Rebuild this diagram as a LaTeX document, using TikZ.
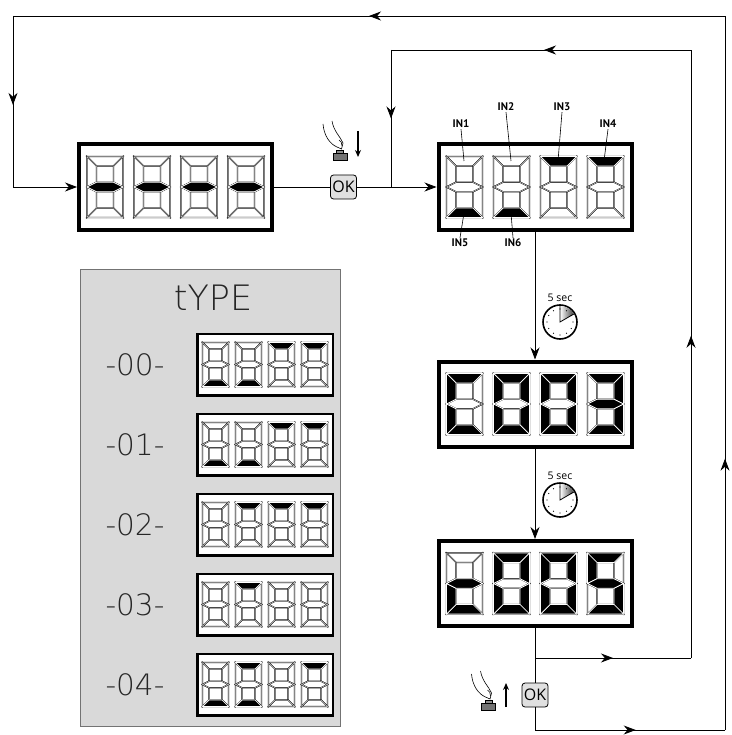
\documentclass[tikz,border=0pt]{standalone}
\usepackage{fontspec}
\setmainfont{Open Sans}
\newfontfamily\labfont{PT Sans}
\newfontfamily\segfont{DejaVu Sans ExtraLight}
\usetikzlibrary{arrows.meta,calc,positioning,decorations.markings}

% segments of one digit, top left corner at (0,0), y downwards
\def\sega{(0,0) -- (\sW,0) -- (\sW-\sT,\sT) -- (\sT,\sT) -- cycle}
\def\segb{(\sW,0) -- (\sW,\sH/2) -- (\sW-\sT,\sH/2-\sT/2) -- (\sW-\sT,\sT) -- cycle}
\def\segc{(\sW,\sH/2) -- (\sW,\sH) -- (\sW-\sT,\sH-\sT) -- (\sW-\sT,\sH/2+\sT/2) -- cycle}
\def\segd{(0,\sH) -- (\sT,\sH-\sT) -- (\sW-\sT,\sH-\sT) -- (\sW,\sH) -- cycle}
\def\sege{(0,\sH/2) -- (\sT,\sH/2+\sT/2) -- (\sT,\sH-\sT) -- (0,\sH) -- cycle}
\def\segf{(0,0) -- (\sT,\sT) -- (\sT,\sH/2-\sT/2) -- (0,\sH/2) -- cycle}
\def\segg{(0,\sH/2) -- (\sT,\sH/2-\sT/2) -- (\sW-\sT,\sH/2-\sT/2) -- (\sW,\sH/2) -- (\sW-\sT,\sH/2+\sT/2) -- (\sT,\sH/2+\sT/2) -- cycle}
\def\segnone{}

\newcommand{\segdigit}[5]{%
  \begin{scope}[shift={#1}]
    \def\sW{#2}\def\sH{#3}\def\sT{#4}
    \foreach \s in {a,b,c,d,e,f,g}
      \filldraw[segoff] \csname seg\s\endcsname;
    \foreach \s in #5
      \filldraw[segon] \csname seg\s\endcsname;
  \end{scope}}

% #1 display node, #2 width, #3 height, #4 thickness, #5 pitch, #6 lit segments
\newcommand{\segdisplay}[6]{%
  \foreach \segs [count=\i] in {#6}{%
    \segdigit{($(#1)+({(\i-1)*#5-(3*#5+#2)/2},{-#3/2})$)}{#2}{#3}{#4}{\segs}}}

\newcommand{\pushhand}[1]{%
  \begin{scope}[shift={#1},line width=0.6pt]
    \draw (-17,-26) .. controls (-16,-14) and (-10,-6) .. (-3,-3);
    \draw (-8,-29) .. controls (-6,-18) and (0,-14) .. (3,-7) -- (1.5,-1) -- (-3,-3);
    \draw (-1,-10) .. controls (1,-9) and (2,-7) .. (2,-4);
    \filldraw[fill=black!45] (-3.5,0) rectangle (3.5,3);
    \filldraw[fill=black!55] (-7,3) rectangle (7,10);
  \end{scope}}

\begin{document}
\begin{tikzpicture}[x=1pt,y=-1pt,
    flow/.style={line width=0.8pt},
    arrowto/.style={-{Stealth[length=12pt,width=9pt]}},
    midarrow/.style={postaction={decorate},decoration={markings,mark=at position #1 with {\arrow{Stealth[length=12pt,width=9pt]}}}},
    segoff/.style={fill=white,draw=black,line width=0.35pt,double=black!20,double distance=0.5pt},
    segon/.style={fill=black,draw=white,line width=0.7pt},
    bigdisp/.style={rectangle,draw,fill=white,line width=4pt,minimum width=193pt,minimum height=85pt,inner sep=0pt},
    smalldisp/.style={rectangle,draw,fill=white,line width=2.5pt,minimum width=135.5pt,minimum height=61.5pt,inner sep=0pt},
    okkey/.style={rectangle,rounded corners=3pt,draw,fill=black!12,line width=0.8pt,minimum width=26pt,minimum height=24pt,inner sep=0pt,font=\fontsize{16}{16}\selectfont},
    inlabel/.style={font=\labfont\bfseries\fontsize{11}{11}\selectfont,inner sep=1pt},
    seglabel/.style={font=\segfont\fontsize{29.5}{29.5}\selectfont,text=black!85},
    timer/.style={circle,draw,fill=white,line width=1.6pt,minimum size=34pt,inner sep=0pt},
    sectext/.style={font=\fontsize{10.5}{10.5}\selectfont,inner sep=1pt}]
  \useasboundingbox (0,0) rectangle (731,735);

  % type panel
  \node[rectangle,draw=black!55,fill=black!15,line width=0.8pt,minimum width=260pt,minimum height=457pt] (typepanel) at (210.5,497.5) {};
  \node[seglabel,font=\segfont\fontsize{35}{35}\selectfont] (typetitle) at (213,298) {tYPE};
  \foreach \k/\txt in {0/-00-,1/-01-,2/-02-,3/-03-,4/-04-}{
    \node[smalldisp] (type\k) at (265,364.5+80*\k) {};
    \node[seglabel,xshift=-61pt] (lab\k) at (type\k.west) {\txt};}
  \segdisplay{type0}{26}{44}{6.5}{33}{{d},{d},{a},{a}}
  \segdisplay{type1}{26}{44}{6.5}{33}{{d},{d},{a},{a}}
  \segdisplay{type2}{26}{44}{6.5}{33}{{none},{a},{a},{a}}
  \segdisplay{type3}{26}{44}{6.5}{33}{{none},{a},{none},{none}}
  \segdisplay{type4}{26}{44}{6.5}{33}{{d},{a,d},{none},{a}}

  % displays
  \node[bigdisp] (dash) at (175.5,187) {};
  \node[bigdisp] (inputs) at (535,187) {};
  \node[bigdisp] (code3) at (535,404) {};
  \node[bigdisp] (code5) at (535,583.5) {};
  \segdisplay{dash}{36}{61}{9.5}{47}{{g},{g},{g},{g}}
  \segdisplay{inputs}{36}{61}{9.5}{47}{{d},{d},{a},{a}}
  \segdisplay{code3}{36}{61}{9.5}{47}{{a,d,e,f},{a,b,c,d,e,f},{a,b,c,d,e,f},{a,b,c,d,g}}
  \segdisplay{code5}{36}{61}{9.5}{47}{{d,e,g},{a,b,c,d,e,f},{a,b,c,d,e,f},{a,c,d,f,g}}

  % input labels
  \node[inlabel] (in1) at (461,124) {IN1};
  \node[inlabel] (in2) at (506,107) {IN2};
  \node[inlabel] (in3) at (562,107) {IN3};
  \node[inlabel] (in4) at (608,124) {IN4};
  \node[inlabel] (in5) at (460,243) {IN5};
  \node[inlabel] (in6) at (513,243) {IN6};
  \path (464,161) coordinate (s1) (511,161) coordinate (s2) (558,161) coordinate (s3)
        (604,161) coordinate (s4) (464,213) coordinate (s5) (511,213) coordinate (s6);
  \foreach \i in {1,...,4} \draw[line width=0.6pt] (in\i.south) -- (s\i);
  \foreach \i in {5,6} \draw[line width=0.6pt] (in\i.north) -- (s\i);

  % keys and timers
  \node[okkey] (ok1) at (343.5,187) {OK};
  \node[okkey] (ok2) at (535,695) {OK};
  \pushhand{(340,150)}
  \pushhand{(488.5,700)}
  \path (358,131) coordinate (pressA) (358,157) coordinate (pressB)
        (506,707) coordinate (relA) (506,683) coordinate (relB);
  \draw[line width=1.5pt,-{Stealth[length=7pt,width=6pt]}] (pressA) -- (pressB);
  \draw[line width=1.5pt,-{Stealth[length=7pt,width=6pt]}] (relA) -- (relB);
  \node[timer] (clk1) at (560,322) {};
  \node[timer] (clk2) at (560,500) {};
  \node[sectext,above=1pt of clk1] (sec1) {5 sec};
  \node[sectext,above=1pt of clk2] (sec2) {5 sec};
  \foreach \c in {clk1,clk2}{
    \shade[left color=white,right color=black!75] (\c.center) -- ($(\c.center)+(0,-16)$) arc[start angle=90,end angle=30,radius=16pt] -- cycle;
    \foreach \a in {0,30,...,330} \fill ($(\c.center)+(\a:13)$) circle[radius=0.6pt];
    \draw[line width=0.8pt] ($(\c.center)+(0,-16)$) -- (\c.center) -- ($(\c.center)+(-30:16)$);}

  % loops
  \path (725,730) coordinate (outBR) (725,16) coordinate (outTR) (13,16) coordinate (outTL)
        (13,187) coordinate (outBL) (535,730) coordinate (outJ)
        (535,658) coordinate (inJ) (691,658) coordinate (inBR) (691,50) coordinate (inTR)
        (391,50) coordinate (inTL) (391,187) coordinate (inBL);
  \draw[flow] (dash.east) -- (ok1.west);
  \draw[flow,arrowto] (ok1.east) -- (inputs.west);
  \draw[flow,arrowto] (inputs.south) -- (code3.north);
  \draw[flow,arrowto] (code3.south) -- (code5.north);
  \draw[flow] (code5.south) -- (ok2.north);
  \draw[flow] (ok2.south) -- (outJ);
  \draw[flow,midarrow=0.53] (outJ) -- (outBR);
  \draw[flow,midarrow=0.38] (outBR) -- (outTR);
  \draw[flow,midarrow=0.5] (outTR) -- (outTL);
  \draw[flow,midarrow=0.52] (outTL) -- (outBL);
  \draw[flow,arrowto] (outBL) -- (dash.west);
  \draw[flow,midarrow=0.5] (inJ) -- (inBR);
  \draw[flow,midarrow=0.53] (inBR) -- (inTR);
  \draw[flow,midarrow=0.49] (inTR) -- (inTL);
  \draw[flow,midarrow=0.5] (inTL) -- (inBL);
\end{tikzpicture}
\end{document}
